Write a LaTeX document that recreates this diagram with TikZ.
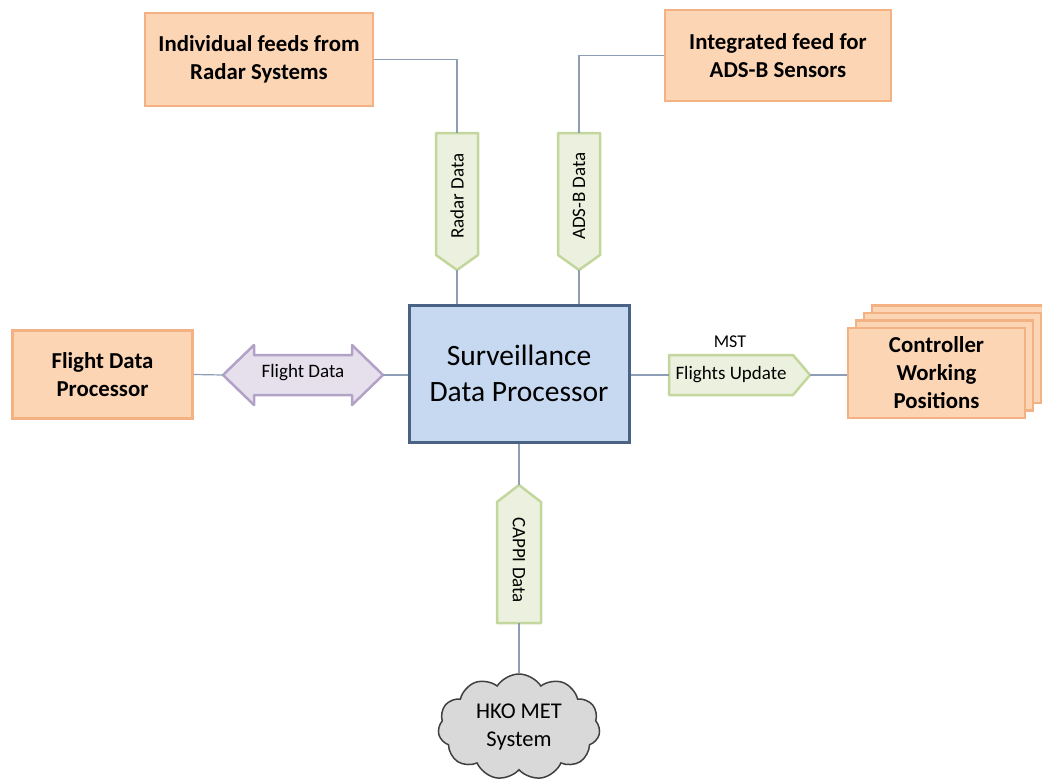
\documentclass[tikz,border=0pt]{standalone}
\usepackage{fontspec}
\setmainfont{Carlito}
\usetikzlibrary{shapes.symbols}
\definecolor{boxfill}{HTML}{FCD5B5}
\definecolor{boxline}{HTML}{F4B183}
\definecolor{sdpfill}{HTML}{C6D9F1}
\definecolor{sdpline}{HTML}{4A6283}
\definecolor{grfill}{HTML}{EBF1DE}
\definecolor{grline}{HTML}{C3D69B}
\definecolor{pufill}{HTML}{E5E0EC}
\definecolor{puline}{HTML}{B3A2C7}
\definecolor{conn}{HTML}{8C9DB5}
\definecolor{cloudfill}{HTML}{D9D9D9}
\definecolor{cloudline}{HTML}{404040}
\begin{document}
\begin{tikzpicture}[x=1pt,y=-1pt,
  srcbox/.style={draw=boxline, fill=boxfill, line width=2.5pt, align=center,
    font=\fontsize{22.8}{28}\selectfont\bfseries, inner sep=0pt},
  procbox/.style={draw=sdpline, fill=sdpfill, line width=3pt, align=center,
    font=\fontsize{29.5}{36}\selectfont, inner sep=0pt},
  flowgreen/.style={draw=grline, fill=grfill, line width=2.5pt, line join=round},
  flowpurple/.style={draw=puline, fill=pufill, line width=2.5pt, line join=round},
  flowlabel/.style={font=\fontsize{19}{22}\selectfont, inner sep=0pt},
  link/.style={draw=conn, line width=1.2pt}]
\useasboundingbox (0,0) rectangle (1042,782);

% source / sink boxes
\node[srcbox, minimum width=228, minimum height=93] (radar) at (259,59.5)
  {Individual feeds from\\Radar Systems};
\node[srcbox, minimum width=226, minimum height=91] (ads) at (778,55.5)
  {Integrated feed for\\ADS-B Sensors};
\node[srcbox, minimum width=180, minimum height=88] (fdp) at (102.5,374.5)
  {Flight Data\\Processor};
\foreach \d in {3,2,1}
  \node[srcbox, minimum width=177, minimum height=90] (cwp\d) at (936.5+8*\d,373-7.5*\d) {};
\node[srcbox, minimum width=177, minimum height=90] (cwp) at (936.5,373)
  {Controller\\Working\\Positions};

% central processor
\node[procbox, minimum width=220, minimum height=137] (sdp) at (519,373.5)
  {Surveillance\\Data Processor};

% cloud
\node[cloud, cloud puffs=11, cloud puff arc=115, aspect=1.55, draw=cloudline,
  fill=cloudfill, line width=1.5pt, minimum width=162, minimum height=106,
  inner sep=0pt, align=center, font=\fontsize{22.5}{28}\selectfont] (hko) at (519,727)
  {HKO MET\\System};

% Radar Data arrow
\path[flowgreen] (436,133) -- (478,133) -- (478,255) -- (457,270) -- (436,255) -- cycle;
\coordinate (rdtop) at (457,133);
\coordinate (rdtip) at (457,270);
\node[flowlabel, rotate=90] (rdlab) at (457,196) {Radar Data};

% ADS-B Data arrow
\path[flowgreen] (558,133) -- (600,133) -- (600,255) -- (579,270) -- (558,255) -- cycle;
\coordinate (adstop) at (579,133);
\coordinate (adstip) at (579,270);
\node[flowlabel, rotate=90] (adslab) at (579,196) {ADS-B Data};

% CAPPI Data arrow
\path[flowgreen] (497,623) -- (541,623) -- (541,502) -- (519,485) -- (497,502) -- cycle;
\coordinate (cappitip) at (519,485);
\coordinate (cappibot) at (519,623);
\node[flowlabel, rotate=-90] (cappilab) at (519,560) {CAPPI Data};

% Flights Update arrow
\path[flowgreen] (669,355) -- (793,355) -- (810,375) -- (793,395) -- (669,395) -- cycle;
\coordinate (futail) at (669,375);
\coordinate (futip) at (810,375);
\node[flowlabel] (fulab) at (731,375) {Flights Update};
\node[flowlabel, font=\fontsize{18}{22}\selectfont] (mst) at (730,342) {MST};

% Flight Data double arrow
\path[flowpurple] (223,375) -- (254,345) -- (254,355) -- (352,355) -- (352,345)
  -- (383,375) -- (352,405) -- (352,395) -- (254,395) -- (254,405) -- cycle;
\coordinate (fdl) at (223,375);
\coordinate (fdr) at (383,375);
\node[flowlabel] (fdlab) at (303,373) {Flight Data};

% connectors
\draw[link] (radar.east) -| (rdtop);
\draw[link] (rdtip) -- (sdp.north -| rdtip);
\draw[link] (ads.west) -| (adstop);
\draw[link] (adstip) -- (sdp.north -| adstip);
\draw[link] (fdp.east) -- (fdl);
\draw[link] (fdr) -- (sdp.west |- fdr);
\draw[link] (sdp.east |- futail) -- (futail);
\draw[link] (futip) -- (cwp.west |- futip);
\draw[link] (sdp.south -| cappitip) -- (cappitip);
\draw[link] (cappibot) -- (hko.north);
\end{tikzpicture}
\end{document}
